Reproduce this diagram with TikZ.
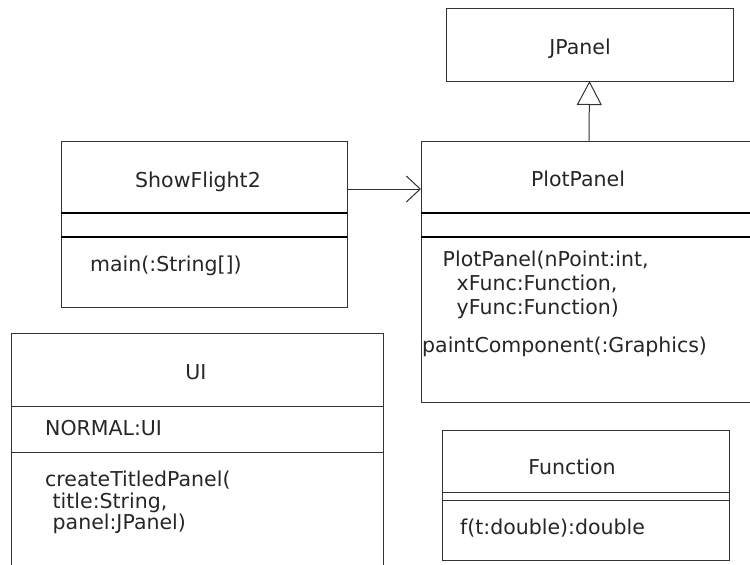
\documentclass[tikz,border=0pt]{standalone}
\usepackage{fontspec}
\setmainfont{DejaVu Sans}
\usetikzlibrary{arrows.meta,positioning}
\tikzset{
  umlpart/.style={draw=black!80, line width=1pt, rectangle, inner sep=0pt, outer sep=0pt},
  umlname/.style={anchor=base, inner sep=0pt, text=black!85, font=\fontsize{20.5}{24}\selectfont},
  umlitem/.style={anchor=base west, inner sep=0pt, text=black!85, font=\fontsize{20.5}{24}\selectfont},
  divider/.style={line width=2pt},
  assoc/.style={-{Straight Barb[length=14pt,width=26pt]}, line width=1pt, draw=black!80},
  extends/.style={-{Triangle[open,length=24pt,width=25pt]}, line width=1pt, draw=black!80}
}
\begin{document}
\begin{tikzpicture}[x=1pt,y=-1pt]
\useasboundingbox (0,0) rectangle (750,565);
\clip (0,0) rectangle (750,565);

% JPanel
\node[umlpart, minimum width=287pt, minimum height=73pt] (jpanel) at (589.5,44.5) {};
\node[umlname] (jpanelname) at (580,54) {JPanel};

% ShowFlight2
\node[umlpart, minimum width=286pt, minimum height=72pt] (sfname) at (204,177) {};
\node[umlpart, minimum width=286pt, minimum height=24pt, below=0pt of sfname] (sfattr) {};
\node[umlpart, minimum width=286pt, minimum height=70pt, below=0pt of sfattr] (sfops) {};
\draw[divider] (sfattr.north west) -- (sfattr.north east);
\draw[divider] (sfattr.south west) -- (sfattr.south east);
\node[umlname] (sftitle) at (198,187.5) {ShowFlight2};
\node[umlitem] (sfmain) at (90,271.5) {main(:String[])};

% PlotPanel
\node[umlpart, minimum width=336pt, minimum height=72pt] (ppname) at (589,177) {};
\node[umlpart, minimum width=336pt, minimum height=24pt, below=0pt of ppname] (ppattr) {};
\node[umlpart, minimum width=336pt, minimum height=165pt, below=0pt of ppattr] (ppops) {};
\draw[divider] (ppattr.north west) -- (ppattr.north east);
\draw[divider] (ppattr.south west) -- (ppattr.south east);
\node[umlname] (pptitle) at (578,186) {PlotPanel};
\node[umlitem] (ppctor) at (442.5,266.5) {PlotPanel(nPoint:int,};
\node[umlitem] (ppxfunc) at (456.5,290.5) {xFunc:Function,};
\node[umlitem] (ppyfunc) at (456.5,314.5) {yFunc:Function)};
\node[umlitem] (pppaint) at (422,352.5) {paintComponent(:Graphics)};

% UI
\node[umlpart, minimum width=372pt, minimum height=73pt] (uiname) at (197,369.5) {};
\node[umlpart, minimum width=372pt, minimum height=46pt, below=0pt of uiname] (uiattr) {};
\node[umlpart, minimum width=372pt, minimum height=138pt, below=0pt of uiattr] (uiops) {};
\node[umlname] (uititle) at (196,379) {UI};
\node[umlitem] (uinormal) at (45,435.5) {NORMAL:UI};
\node[umlitem] (uicreate) at (45,486.5) {createTitledPanel(};
\node[umlitem] (uititlearg) at (52.5,508) {title:String,};
\node[umlitem] (uipanelarg) at (52.5,529.5) {panel:JPanel)};

% Function
\node[umlpart, minimum width=287pt, minimum height=62pt] (fnname) at (585.5,461) {};
\node[umlpart, minimum width=287pt, minimum height=8pt, below=0pt of fnname] (fnattr) {};
\node[umlpart, minimum width=287pt, minimum height=60pt, below=0pt of fnattr] (fnops) {};
\node[umlname] (fntitle) at (572,474) {Function};
\node[umlitem] (fnf) at (460,534) {f(t:double):double};

% relations
\draw[assoc] ([yshift=-12pt]sfname.east) -- ([yshift=-12pt]ppname.west);
\draw[extends] (ppname.north) -- (jpanel.south);
\end{tikzpicture}
\end{document}
